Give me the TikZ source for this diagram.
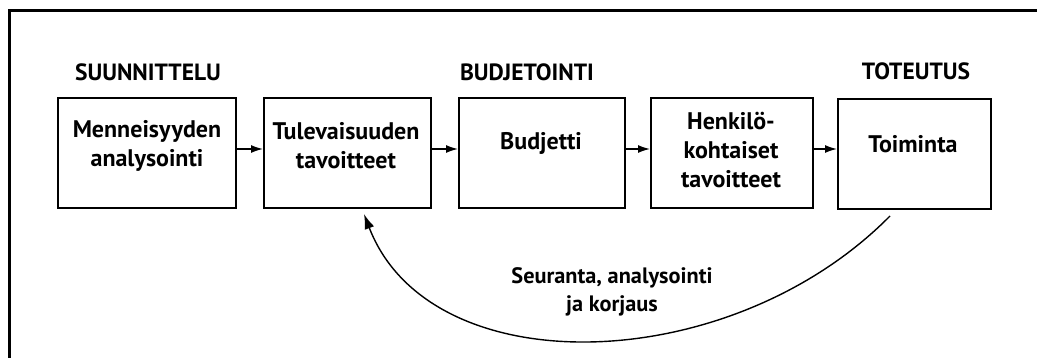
\documentclass[tikz,border=0pt]{standalone}
\usepackage{fontspec}
\setmainfont{PT Sans}
\usetikzlibrary{arrows.meta}
\begin{document}
\begin{tikzpicture}[x=1pt,y=-1pt,
  stage/.style={draw,line width=2pt,inner sep=0pt,anchor=north west},
  txt/.style={align=center,font=\bfseries\fontsize{24}{29}\selectfont,inner sep=0pt},
  fbtxt/.style={align=center,font=\bfseries\fontsize{22.3}{28.5}\selectfont,inner sep=0pt},
  head/.style={font=\bfseries\fontsize{23.5}{27}\selectfont,inner sep=0pt},
  flow/.style={line width=1.4pt,-{Latex[length=12pt,width=8pt]}},
  back/.style={line width=1.4pt,-{Latex[length=15pt,width=10pt]}}]
\useasboundingbox (0,0) rectangle (1037,358);
\fill[white] (0,0) rectangle (1037,358);
\draw[line width=3pt] (9,360) -- (9,11) -- (1040,11);
% headings
\node[head] (h1) at (148,72) {SUUNNITTELU};
\node[head] (h2) at (527,72) {BUDJETOINTI};
\node[head] (h3) at (916,71) {TOTEUTUS};
% boxes
\node[stage,minimum width=178pt,minimum height=110pt] (b1) at (57,97) {};
\node[stage,minimum width=167pt,minimum height=110pt] (b2) at (263,97) {};
\node[stage,minimum width=166pt,minimum height=110pt] (b3) at (458,97) {};
\node[stage,minimum width=162pt,minimum height=110pt] (b4) at (650,97) {};
\node[stage,minimum width=153pt,minimum height=110pt] (b5) at (837,98) {};
% texts
\node[txt] (t1) at (147,146) {Menneisyyden\\analysointi};
\node[txt] (t2) at (346,146) {Tulevaisuuden\\tavoitteet};
\node[txt] (t3) at (541,143) {Budjetti};
\node[txt] (t4) at (731,150) {Henkilö-\\kohtaiset\\tavoitteet};
\node[txt] (t5) at (913,144) {Toiminta};
% arrows
\draw[flow] (b1.east |- 0,149) -- (b2.west |- 0,149);
\draw[flow] (b2.east |- 0,149) -- (b3.west |- 0,149);
\draw[flow] (b3.east |- 0,149) -- (b4.west |- 0,149);
\draw[flow] (b4.east |- 0,149) -- (b5.west |- 0,149);
% feedback
\coordinate (s) at (890,216);
\coordinate (e) at (364,214);
\draw[back] (s) .. controls (730,378) and (430,386) .. (e);
\node[fbtxt] (fb) at (612,292) {Seuranta, analysointi\\ja korjaus};
\end{tikzpicture}
\end{document}
